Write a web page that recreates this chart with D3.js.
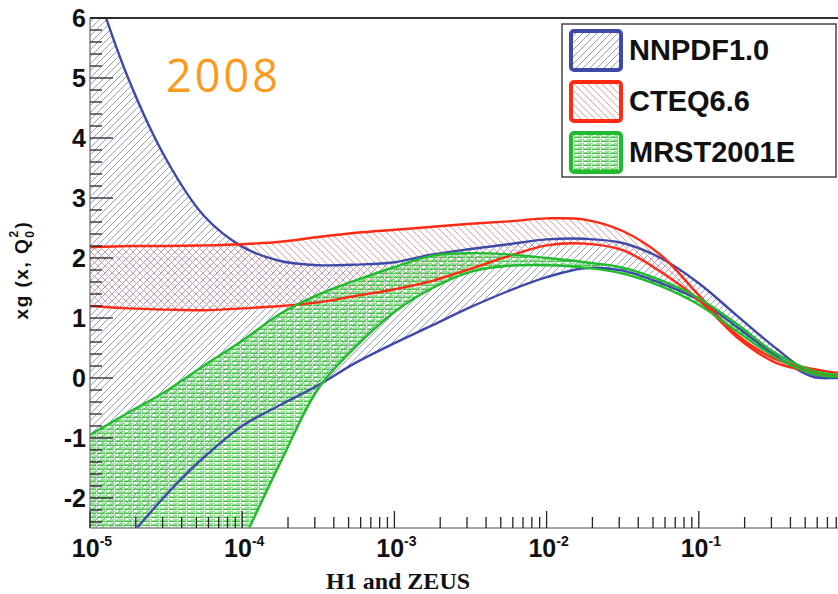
<!DOCTYPE html>
<html>
<head>
<meta charset="utf-8">
<script src="https://cdn.jsdelivr.net/npm/d3@7"></script>
<style>
  html, body { margin: 0; padding: 0; background: #fff; }
  svg { display: block; }
</style>
</head>
<body>
<svg id="chart" width="838" height="594"></svg>
<script>
// ---------------- data ----------------
const xValues = [1e-5, 1.78e-5, 3.16e-5, 5.62e-5, 1e-4, 1.78e-4, 3.16e-4, 5.62e-4,
                 1e-3, 1.78e-3, 3.16e-3, 5.62e-3, 1e-2, 1.78e-2, 3.16e-2, 5.62e-2,
                 0.1, 0.178, 0.316, 0.562, 0.794, 1.0];

const nnpdfUpper = [6.8, 5.0, 3.65, 2.70, 2.19, 1.95, 1.88, 1.89, 1.93, 2.06, 2.15, 2.23,
                    2.31, 2.32, 2.25, 2.00, 1.58, 1.04, 0.51, 0.06, 0.02, 0.02];
const nnpdfLower = [-3.5, -2.68, -1.95, -1.32, -0.80, -0.45, -0.12, 0.26, 0.58, 0.88, 1.18, 1.45,
                    1.68, 1.83, 1.79, 1.58, 1.30, 0.85, 0.38, 0.02, 0.0, 0.0];

const cteqUpper = [2.18, 2.20, 2.20, 2.21, 2.23, 2.27, 2.35, 2.42, 2.47, 2.52, 2.57, 2.61,
                   2.66, 2.64, 2.45, 2.05, 1.38, 0.72, 0.32, 0.15, 0.09, 0.08];
const cteqLower = [1.20, 1.16, 1.14, 1.13, 1.16, 1.20, 1.26, 1.37, 1.48, 1.62, 1.82, 2.03,
                   2.21, 2.24, 2.13, 1.77, 1.30, 0.68, 0.26, 0.10, 0.03, 0.02];

const mrstUpper = [-0.95, -0.58, -0.22, 0.21, 0.62, 1.07, 1.39, 1.63, 1.85, 2.04, 2.08, 2.06,
                   2.00, 1.93, 1.84, 1.63, 1.33, 0.90, 0.42, 0.12, 0.06, 0.05];
const mrstLower = [-8.6, -7.0, -5.5, -4.1, -2.75, -1.41, -0.18, 0.53, 1.10, 1.50, 1.77, 1.87,
                   1.88, 1.84, 1.74, 1.53, 1.22, 0.78, 0.35, 0.07, 0.02, 0.02];

const seriesNames = ["NNPDF1.0", "CTEQ6.6", "MRST2001E"];
const yTickValues = [-2, -1, 0, 1, 2, 3, 4, 5, 6];
const xTickExponents = [-5, -4, -3, -2, -1];

(function () {
// ---------------- layout ----------------
const svg = d3.select("#chart");
const W = 838, H = 594;
const pL = 90, pT = 18, pB = 528, pREnd = 851;

const x = d3.scaleLog().domain([1e-5, 1]).range([pL, pREnd]);
const y = d3.scaleLinear().domain([-2.5, 6]).range([pB, pT]);

const defs = svg.append("defs");
defs.append("clipPath").attr("id", "plotClip")
  .append("rect").attr("x", pL).attr("y", pT).attr("width", W - pL).attr("height", pB - pT);

// hatch patterns
const pBlue = defs.append("pattern").attr("id", "hatchBlue")
  .attr("patternUnits", "userSpaceOnUse").attr("width", 7).attr("height", 7);
pBlue.append("path").attr("d", "M-1,1 l2,-2 M0,7 l7,-7 M6,8 l2,-2")
  .attr("stroke", "#8a8fd0").attr("stroke-width", 0.9).attr("fill", "none");

const pRed = defs.append("pattern").attr("id", "hatchRed")
  .attr("patternUnits", "userSpaceOnUse").attr("width", 7).attr("height", 7);
pRed.append("path").attr("d", "M-1,6 l2,2 M0,0 l7,7 M6,-1 l2,2")
  .attr("stroke", "#ff8c8c").attr("stroke-width", 0.9).attr("fill", "none");

const pGreen = defs.append("pattern").attr("id", "hatchGreen")
  .attr("patternUnits", "userSpaceOnUse").attr("width", 9).attr("height", 4);
pGreen.append("line").attr("x1", 0).attr("x2", 6).attr("y1", 1.2).attr("y2", 1.2)
  .attr("stroke", "#3cc43c").attr("stroke-width", 1.5);
pGreen.append("line").attr("x1", 7).attr("x2", 9).attr("y1", 1.2).attr("y2", 1.2)
  .attr("stroke", "#3cc43c").attr("stroke-width", 1.5);
pGreen.append("line").attr("x1", 2).attr("x2", 8).attr("y1", 3.2).attr("y2", 3.2)
  .attr("stroke", "#7ad67a").attr("stroke-width", 1.0);

const bands = [
  { name: seriesNames[0], up: nnpdfUpper, lo: nnpdfLower, color: "#3f4aa8", fill: "url(#hatchBlue)" },
  { name: seriesNames[1], up: cteqUpper, lo: cteqLower, color: "#ff2a14", fill: "url(#hatchRed)" },
  { name: seriesNames[2], up: mrstUpper, lo: mrstLower, color: "#22bb30", fill: "url(#hatchGreen)" }
];

const curve = d3.curveCatmullRom.alpha(0.5);
const plot = svg.append("g").attr("clip-path", "url(#plotClip)");

bands.forEach(b => {
  const area = d3.area().curve(curve)
    .x((d, i) => x(xValues[i]))
    .y0((d, i) => y(b.lo[i]))
    .y1((d, i) => y(b.up[i]));
  plot.append("path").datum(xValues).attr("d", area).attr("fill", b.fill);
});

bands.forEach(b => {
  [b.up, b.lo].forEach(arr => {
    const line = d3.line().curve(curve)
      .x((d, i) => x(xValues[i]))
      .y(d => y(d));
    plot.append("path").datum(arr).attr("d", line)
      .attr("fill", "none").attr("stroke", b.color).attr("stroke-width", 2.4);
  });
});

// ---------------- axes ----------------
svg.append("line").attr("x1", pL).attr("x2", W).attr("y1", pT).attr("y2", pT)
  .attr("stroke", "#333").attr("stroke-width", 2);
svg.append("line").attr("x1", pL).attr("x2", pL).attr("y1", pT).attr("y2", pB)
  .attr("stroke", "#888").attr("stroke-width", 1.5);
svg.append("line").attr("x1", pL).attr("x2", W).attr("y1", pB).attr("y2", pB)
  .attr("stroke", "#888").attr("stroke-width", 1.5);

// y ticks (inside)
const yMinor = d3.range(-2.4, 6.001, 0.2).map(v => +v.toFixed(1));
const yAxisG = svg.append("g");
yMinor.forEach(v => {
  const isMajor = Math.abs(v - Math.round(v)) < 1e-6;
  yAxisG.append("line").attr("x1", pL).attr("x2", pL + (isMajor ? 23 : 12))
    .attr("y1", y(v)).attr("y2", y(v)).attr("stroke", "#222").attr("stroke-width", 1.3);
});
yAxisG.selectAll("text.ylab").data(yTickValues).enter().append("text")
  .attr("x", 86).attr("y", d => y(d) + 9)
  .attr("text-anchor", "end")
  .attr("font-family", "Liberation Sans, Arial, sans-serif")
  .attr("font-weight", "bold").attr("font-size", 25).attr("fill", "#111")
  .text(d => d);

// x ticks (upward)
const xAxisG = svg.append("g");
for (let e = -5; e <= -1; e++) {
  for (let m = 1; m <= 9; m++) {
    const v = m * Math.pow(10, e);
    const px = x(v);
    if (px > W) continue;
    xAxisG.append("line").attr("x1", px).attr("x2", px)
      .attr("y1", pB).attr("y2", pB - (m === 1 ? 17 : 11))
      .attr("stroke", "#222").attr("stroke-width", 1.3);
  }
}
xTickExponents.forEach(e => {
  const t = xAxisG.append("text")
    .attr("x", x(Math.pow(10, e)) + 2).attr("y", 557)
    .attr("text-anchor", "middle")
    .attr("font-family", "Liberation Sans, Arial, sans-serif")
    .attr("font-weight", "bold").attr("font-size", 25).attr("fill", "#111");
  t.append("tspan").text("10");
  t.append("tspan").attr("dy", -11).attr("font-size", 14).text("-" + Math.abs(e));
});

// axis titles
svg.append("text")
  .attr("x", 326).attr("y", 589)
  .attr("font-family", "Liberation Serif, Times New Roman, serif")
  .attr("font-weight", "bold").attr("font-size", 24).attr("fill", "#111")
  .text("H1 and ZEUS");

const yt = svg.append("text")
  .attr("transform", "translate(28,270) rotate(-90)")
  .attr("text-anchor", "middle")
  .attr("letter-spacing", 1.5)
  .attr("font-family", "Liberation Sans, Arial, sans-serif")
  .attr("font-weight", "bold").attr("font-size", 19).attr("fill", "#111");
yt.append("tspan").text("xg (x, Q");
yt.append("tspan").attr("dy", 6).attr("font-size", 12).text("0");
yt.append("tspan").attr("dx", -8).attr("dy", -16).attr("font-size", 12).text("2");
yt.append("tspan").attr("dx", 1).attr("dy", 10).text(")");

// year label
svg.append("text").attr("x", 166).attr("y", 92)
  .attr("font-family", "Open Sans, sans-serif")
  .attr("font-size", 45).attr("letter-spacing", 3).attr("fill", "#fb9a1c")
  .text("2008");

// ---------------- legend ----------------
const lg = svg.append("g");
lg.append("rect").attr("x", 562).attr("y", 24).attr("width", 274).attr("height", 153)
  .attr("fill", "#fff").attr("stroke", "#444").attr("stroke-width", 1.5);
const rowY = [30, 81, 132];
bands.forEach((b, i) => {
  lg.append("rect").attr("x", 571).attr("y", rowY[i] + 1).attr("width", 50).attr("height", 39)
    .attr("rx", 3).attr("fill", b.fill).attr("stroke", b.color).attr("stroke-width", 4);
  lg.append("text").attr("x", 629).attr("y", rowY[i] + 30)
    .attr("font-family", "Liberation Sans, Arial, sans-serif")
    .attr("font-weight", "bold").attr("font-size", 29).attr("fill", "#111")
    .text(b.name);
});
})();
</script>
</body>
</html>
